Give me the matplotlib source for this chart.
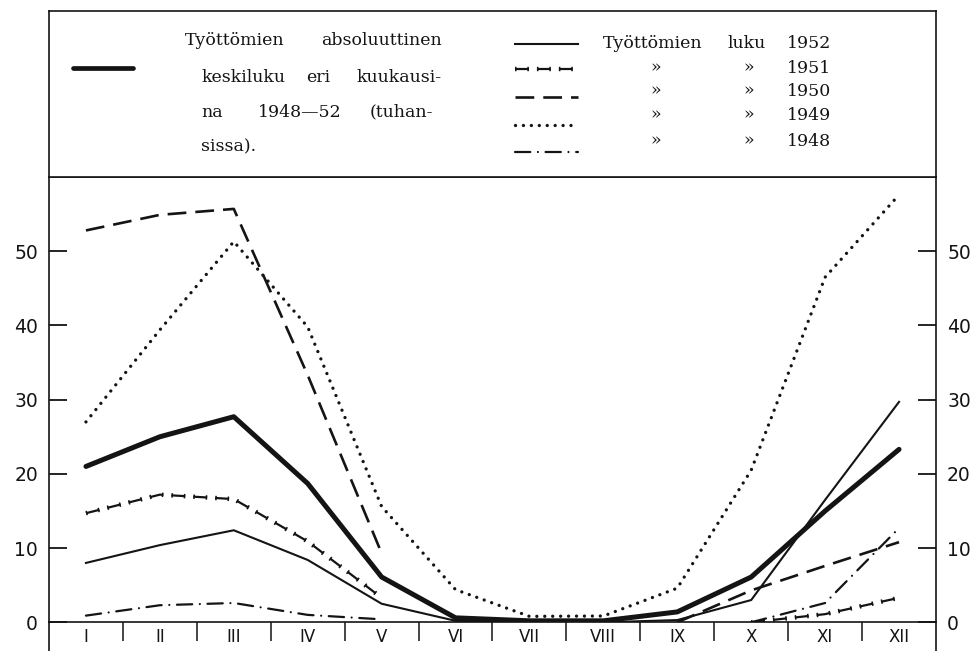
import numpy as np
import matplotlib
matplotlib.use('Agg')
import matplotlib.pyplot as plt
from matplotlib.lines import Line2D

# ---------------- data ----------------
months = ['I', 'II', 'III', 'IV', 'V', 'VI', 'VII', 'VIII', 'IX', 'X', 'XI', 'XII']
nan = np.nan
avg_1948_52 = [21.0, 25.0, 27.7, 18.7, 6.1, 0.6, 0.2, 0.2, 1.4, 6.1, 15.0, 23.3]
y1952 = [8.0, 10.4, 12.4, 8.4, 2.5, 0.2, 0.0, 0.0, 0.3, 3.0, 16.5, 29.7]
y1951 = [14.7, 17.2, 16.6, 10.9, 3.3, nan, nan, nan, nan, 0.0, 1.1, 3.3]
y1950 = [52.8, 54.9, 55.7, 33.3, 9.3, nan, nan, nan, 0.0, 4.3, 7.6, 10.8]
y1949 = [27.0, 39.4, 51.3, 39.8, 15.6, 4.4, 0.8, 0.85, 4.6, 20.5, 46.5, 57.6]
y1948 = [0.9, 2.3, 2.6, 1.0, 0.4, nan, nan, nan, nan, 0.0, 2.6, 12.7]
yticks = [0, 10, 20, 30, 40, 50]

legend_avg_words = [['Työttömien', 'absoluuttinen'],
                    ['keskiluku', 'eri', 'kuukausi-'],
                    ['na', '1948—52', '(tuhan-'],
                    ['sissa).']]
legend_years = ['1952', '1951', '1950', '1949', '1948']
legend_first_words = ['Työttömien', 'luku']
ditto = '»'

# ---------------- style ----------------
plt.rcParams['lines.scale_dashes'] = False
INK = '#141414'
styles = {
    '1952': dict(lw=1.5, linestyle='-'),
    '1951': dict(lw=1.6, dashes=(10, 5.8), dash_capstyle='butt'),
    '1950': dict(lw=1.9, dashes=(13.5, 6.5), dash_capstyle='butt'),
    '1949': dict(lw=2.4, dashes=(0.01, 5.7), dash_capstyle='round'),
    '1948': dict(lw=1.6, dashes=(11, 5.5, 0.01, 5.5), dash_capstyle='round'),
}
serif_overlay = dict(lw=3.2, dashes=(1.1, 7.8, 1.1, 5.8), dash_capstyle='butt')

W, H = 977, 651
fig = plt.figure(figsize=(W / 100, H / 100), dpi=100)
fig.patch.set_facecolor('white')

x_left, x_right = 49, 936
y_zero, y_top, y_box = 622.3, 177, 11

ax = fig.add_axes([x_left / W, (H - y_zero) / H, (x_right - x_left) / W, (y_zero - y_top) / H])
x = np.arange(len(months)) + 0.5

ax.plot(x, y1949, color=INK, **styles['1949'], zorder=3)
ax.plot(x, y1950, color=INK, **styles['1950'], zorder=3)
ax.plot(x, y1951, color=INK, **styles['1951'], zorder=3)
ax.plot(x, y1951, color=INK, **serif_overlay, zorder=3)
ax.plot(x, y1948, color=INK, **styles['1948'], zorder=3)
ax.plot(x, y1952, color=INK, **styles['1952'], zorder=4)
ax.plot(x, avg_1948_52, color=INK, lw=3.6, solid_joinstyle='round',
        solid_capstyle='round', zorder=5)

ax.set_xlim(0, len(months))
ax.set_ylim(0, 60)
ax.set_xticks(x)
ax.set_xticklabels(months, fontsize=12, family='DejaVu Sans')
ax.set_xticks(np.arange(1, len(months)), minor=True)
ax.tick_params(axis='x', which='major', length=0, pad=4, colors=INK)
ax.tick_params(axis='x', which='minor', direction='out', length=13.5, width=1.1, color=INK)
ax.set_yticks(yticks)
ax.set_yticklabels([str(v) for v in yticks], fontsize=13.5)
ax.tick_params(axis='y', which='both', direction='in', length=13, width=1.3,
               left=True, right=True, labelleft=True, labelright=True, pad=8, colors=INK)
for s in ax.spines.values():
    s.set_linewidth(1.2)
    s.set_color(INK)

# spines extend a little below the zero line
for xp in (x_left, x_right):
    fig.add_artist(Line2D([xp / W, xp / W], [0, (H - y_zero) / H],
                          transform=fig.transFigure, color=INK, lw=1.2))

# ---------------- legend box ----------------
axl = fig.add_axes([x_left / W, (H - y_top) / H, (x_right - x_left) / W, (y_top - y_box) / H])
axl.set_xlim(x_left, x_right)
axl.set_ylim(y_top, y_box)
axl.set_xticks([])
axl.set_yticks([])
for s in axl.spines.values():
    s.set_linewidth(1.2)
    s.set_color(INK)

tkw = dict(family='DejaVu Serif', fontsize=12.5, color=INK, va='center')
axl.plot([73, 133], [68, 68], color=INK, lw=3.4, solid_capstyle='round')

# justified paragraph: (x, ha) per word, y per line
word_pos = [[(185, 'left'), (442, 'right')],
            [(201, 'left'), (306, 'left'), (442, 'right')],
            [(201, 'left'), (258, 'left'), (433, 'right')],
            [(201, 'left')]]
line_y = [40, 77, 112, 147]
for words, pos, yy in zip(legend_avg_words, word_pos, line_y):
    for w, (xx, ha) in zip(words, pos):
        axl.text(xx, yy, w, ha=ha, **tkw)

sample_y = [44, 69, 97, 125, 152]
text_y = [43, 68, 91, 115, 141]
for i, yr in enumerate(legend_years):
    axl.plot([515, 578], [sample_y[i]] * 2, color=INK, **styles[yr])
    if yr == '1951':
        axl.plot([515, 578], [sample_y[i]] * 2, color=INK, **serif_overlay)
    if i == 0:
        axl.text(603, text_y[i], legend_first_words[0], ha='left', **tkw)
        axl.text(727, text_y[i], legend_first_words[1], ha='left', **tkw)
    else:
        axl.text(656, text_y[i], ditto, ha='center', **tkw)
        axl.text(749, text_y[i], ditto, ha='center', **tkw)
    axl.text(787, text_y[i], yr, ha='left', **tkw)

fig.savefig('out.png', dpi=100, facecolor='white')
